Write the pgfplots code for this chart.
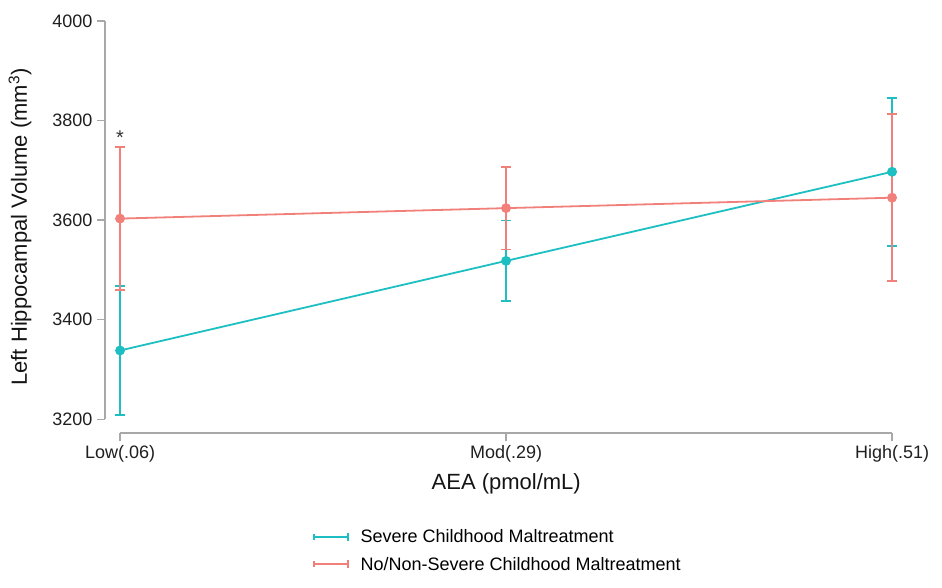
\documentclass[border=0pt]{standalone}
\usepackage{fontspec}
\setmainfont{Liberation Sans}
\usepackage{pgfplots}
\pgfplotsset{compat=1.18}
\definecolor{teal1}{HTML}{1DBFC2}
\definecolor{red1}{HTML}{F2807A}
\definecolor{axgray}{HTML}{A8A8A8}
\begin{document}
\begin{tikzpicture}
\begin{axis}[
  scale only axis,
  width=802.5pt, height=412pt,
  xmin=-0.039, xmax=2.04,
  ymin=3172.2, ymax=4000,
  axis line style={draw=none},
  xtick={0,1,2},
  xticklabels={Low(.06),Mod(.29),High(.51)},
  ytick={3200,3400,3600,3800,4000},
  yticklabel style={/pgf/number format/1000 sep={}},
  /pgf/number format/assume math mode=true,
  xtick pos=bottom, ytick pos=left,
  tick align=outside,
  major tick length=8pt,
  tick style={axgray, line width=1.2pt},
  ticklabel style={font=\fontsize{18}{21}\selectfont, text=black!88},
  xticklabel style={yshift=-1pt},
  yticklabel style={xshift=-1pt},
  xlabel={AEA (pmol/mL)},
  ylabel={Left Hippocampal Volume (mm\textsuperscript{3})},
  label style={font=\fontsize{22}{26}\selectfont, text=black!92},
  xlabel style={yshift=-4pt},
  ylabel style={yshift=14pt},
  legend style={draw=none, fill=none, at={(rel axis cs:0.255,-0.224)}, anchor=north west,
    font=\fontsize{18}{21}\selectfont, row sep=9pt, cells={anchor=west},
    nodes={inner xsep=12pt}},
  legend image code/.code={
    \draw[#1, mark=none] (0pt,0pt) -- (34pt,0pt);
    \draw[#1, mark=none] (0pt,-3pt) -- (0pt,3pt);
    \draw[#1, mark=none] (34pt,-4pt) -- (34pt,4pt);
  },
  clip=false,
]
\draw[axgray, line width=1.2pt] (axis cs:-0.039,3200) -- (axis cs:-0.039,4000);
\draw[axgray, line width=1.2pt] (axis cs:0,3172.2) -- (axis cs:2,3172.2);

\addplot[teal1, line width=1.8pt, mark=*, mark size=4pt,
  mark options={fill=teal1, draw=teal1},
  error bars/.cd, y dir=both, y explicit,
  error bar style={line width=1.8pt, teal1},
  error mark options={rotate=90, mark size=5pt, line width=1.8pt, teal1}]
  coordinates {
  (0,3338) +- (0,129)
  (1,3518) +- (0,81)
  (2,3697) +- (0,149)
};
\addlegendentry{Severe Childhood Maltreatment}

\addplot[red1, line width=1.8pt, mark=*, mark size=4pt,
  mark options={fill=red1, draw=red1},
  error bars/.cd, y dir=both, y explicit,
  error bar style={line width=1.8pt, red1},
  error mark options={rotate=90, mark size=5pt, line width=1.8pt, red1}]
  coordinates {
  (0,3603) +- (0,144)
  (1,3624) +- (0,83)
  (2,3645) +- (0,168)
};
\addlegendentry{No/Non-Severe Childhood Maltreatment}

\node[font=\fontsize{20}{22}\selectfont, text=black!80] at (axis cs:0,3766) {*};
\end{axis}
\path[use as bounding box] (-105pt,-154pt) rectangle (837pt,433pt);
\end{tikzpicture}
\end{document}
